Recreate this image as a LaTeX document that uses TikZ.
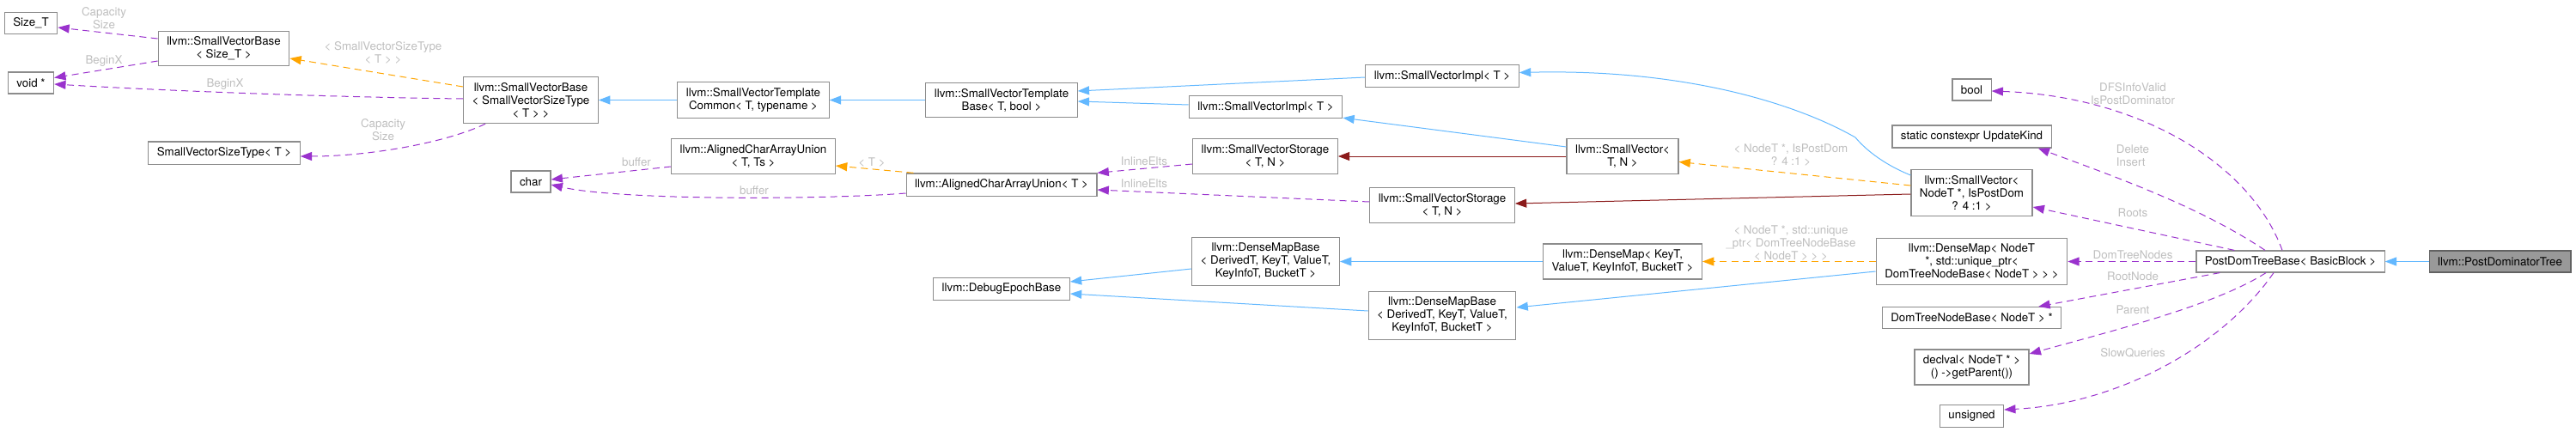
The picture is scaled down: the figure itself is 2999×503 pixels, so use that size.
\documentclass[tikz,border=0pt]{standalone}
\usepackage{fontspec}
\setmainfont{TeX Gyre Heros}
\usetikzlibrary{arrows.meta,calc}
\definecolor{keret}{HTML}{8C8C8C}
\definecolor{kekk}{HTML}{63B8FF}
\definecolor{lila}{HTML}{9A32CD}
\definecolor{narancs}{HTML}{FFA500}
\definecolor{bordo}{HTML}{8B1A1A}
\definecolor{halvany}{HTML}{BEBEBE}
\definecolor{szurke}{HTML}{999999}
\tikzset{
  osztaly/.style={draw=keret,line width=0.9pt,fill=white,align=center,inner xsep=7.5pt,
    inner ysep=5pt,minimum height=18.75pt,font=\fontsize{10}{11.25}\selectfont},
  kiemelt/.style={osztaly,fill=szurke,draw=keret!70!black},
  felirat/.style={text=halvany,align=center,inner sep=0pt,font=\fontsize{10}{11.25}\selectfont},
  nyil/.style={-{Triangle[length=10pt,width=7.5pt]},line width=0.75pt},
  orokles/.style={nyil,kekk},
  tagja/.style={nyil,lila,dash pattern=on 6pt off 4pt},
  sablon/.style={nyil,narancs,dash pattern=on 6pt off 4pt},
  tarol/.style={nyil,bordo},
}
\begin{document}
\begin{tikzpicture}[x=0.75pt,y=-0.75pt]
  \useasboundingbox (0,0) rectangle (2999,503);
  \node[osztaly] (sizeT) at (36,27) {Size\_T};
  \node[osztaly] (voidp) at (36,96.5) {void *};
  \node[osztaly] (svbS) at (260.5,56.5) {llvm::SmallVectorBase\\< Size\_T >};
  \node[osztaly] (svst) at (261,178) {SmallVectorSizeType< T >};
  \node[osztaly] (svbT) at (618,116.5) {llvm::SmallVectorBase\\< SmallVectorSizeType\\< T > >};
  \node[osztaly] (chr) at (618,211.5) {char};
  \node[osztaly] (svtc) at (877,116.5) {llvm::SmallVectorTemplate\\Common< T, typename >};
  \node[osztaly] (acauTs) at (877,182) {llvm::AlignedCharArrayUnion\\< T, Ts >};
  \node[osztaly] (svtb) at (1166,116.5) {llvm::SmallVectorTemplate\\Base< T, bool >};
  \node[osztaly] (acau) at (1166,215) {llvm::AlignedCharArrayUnion< T >};
  \node[osztaly] (debug) at (1166,336.5) {llvm::DebugEpochBase};
  \node[osztaly] (svimB) at (1473.5,124.5) {llvm::SmallVectorImpl< T >};
  \node[osztaly] (svsA) at (1473,182) {llvm::SmallVectorStorage\\< T, N >};
  \node[osztaly] (dmbA) at (1473.5,304.5) {llvm::DenseMapBase\\< DerivedT, KeyT, ValueT,\\KeyInfoT, BucketT >};
  \node[osztaly] (svimA) at (1679,88.5) {llvm::SmallVectorImpl< T >};
  \node[osztaly] (svsB) at (1679,239) {llvm::SmallVectorStorage\\< T, N >};
  \node[osztaly] (dmbB) at (1679,367.5) {llvm::DenseMapBase\\< DerivedT, KeyT, ValueT,\\KeyInfoT, BucketT >};
  \node[osztaly] (svTN) at (1889,182) {llvm::SmallVector<\\T, N >};
  \node[osztaly] (dmK) at (1889,304.5) {llvm::DenseMap< KeyT,\\ValueT, KeyInfoT, BucketT >};
  \node[osztaly] (bool) at (2295.5,104.5) {bool};
  \node[osztaly] (upd) at (2295.5,159) {static constexpr UpdateKind};
  \node[osztaly] (svN) at (2295.5,224.5) {llvm::SmallVector<\\NodeT *, IsPostDom\\? 4 :1 >};
  \node[osztaly] (dmN) at (2295.5,304.5) {llvm::DenseMap< NodeT\\*, std::unique\_ptr<\\DomTreeNodeBase< NodeT > > >};
  \node[osztaly] (dtnb) at (2295.5,370) {DomTreeNodeBase< NodeT > *};
  \node[osztaly] (decl) at (2295.5,427.5) {declval< NodeT * >\\() ->getParent())};
  \node[osztaly] (uns) at (2295.5,484.5) {unsigned};
  \node[osztaly] (pdtb) at (2666.5,304.5) {PostDomTreeBase< BasicBlock >};
  \node[kiemelt] (pdt) at (2910.5,304.5) {llvm::PostDominatorTree};
  % feliratok
  \node[felirat] (lCap1) at (121,21.5) {Capacity\\Size};
  \node[felirat] (lBeg1) at (121,71) {BeginX};
  \node[felirat] (lBeg2) at (262,98) {BeginX};
  \node[felirat] (lSvst) at (446,61) {< SmallVectorSizeType\\< T > >};
  \node[felirat] (lCap2) at (446,151) {Capacity\\Size};
  \node[felirat] (lBuf1) at (741,189) {buffer};
  \node[felirat] (lBuf2) at (878,222) {buffer};
  \node[felirat] (lT) at (1015,189) {< T >};
  \node[felirat] (lIn1) at (1332,188) {InlineElts};
  \node[felirat] (lIn2) at (1332,214) {InlineElts};
  \node[felirat] (lIsPD) at (2085,181) {< NodeT *, IsPostDom\\? 4 :1 >};
  \node[felirat] (lUniq) at (2085,283) {< NodeT *, std::unique\\\_ptr< DomTreeNodeBase\\< NodeT > > >};
  \node[felirat] (lDfs) at (2483,109) {DFSInfoValid\\IsPostDominator};
  \node[felirat,align=left] (lDel) at (2483,181) {Delete\\Insert};
  \node[felirat] (lRoots) at (2483,248) {Roots};
  \node[felirat] (lDtn) at (2483,297) {DomTreeNodes};
  \node[felirat] (lRn) at (2483,322) {RootNode};
  \node[felirat] (lPar) at (2483,361) {Parent};
  \node[felirat] (lSq) at (2483,411) {SlowQueries};
  % elek
  \draw[tagja] ($(svbS.west)+(0,-11.5)$) -- ($(sizeT.east)+(0,5)$);
  \draw[tagja] ($(svbS.west)+(0,14.5)$) -- ($(voidp.east)+(0,-6)$);
  \draw[tagja] ($(svbT.west)+(0,-1.5)$) .. controls (380,113) and (200,106) .. ($(voidp.east)+(0,1.5)$);
  \draw[sablon] ($(svbT.west)+(0,-15.5)$) -- ($(svbS.east)+(0,11.5)$);
  \draw[tagja] ($(svbT.south west)+(26,0)$) .. controls (520,166) and (430,182) .. ($(svst.east)+(0,4)$);
  \draw[orokles] (svtc) -- (svbT);
  \draw[orokles] (svtb) -- (svtc);
  \draw[orokles] ($(svimA.west)+(0,1.5)$) -- ($(svtb.east)+(0,-10.5)$);
  \draw[orokles] ($(svimB.west)+(0,-2.5)$) -- ($(svtb.east)+(0,1.5)$);
  \draw[orokles] ($(svTN.west)+(0,-11)$) -- ($(svimB.south east)+(0,-1)$);
  \draw[tarol] (svTN) -- (svsA);
  \draw[tagja] ($(svsA.west)+(0,9)$) -- (acau.north east);
  \draw[tagja] ($(svsB.west)+(0,-4)$) -- ($(acau.east)+(0,6)$);
  \draw[sablon] ($(acau.north west)+(9,0)$) -- ($(acauTs.east)+(0,11)$);
  \draw[tagja] ($(acauTs.west)+(0,12)$) -- ($(chr.east)+(0,-2.5)$);
  \draw[tagja] ($(acau.west)+(0,10)$) .. controls (950,233) and (720,233) .. ($(chr.east)+(0,3.5)$);
  \draw[orokles] ($(dmbA.west)+(0,8.5)$) -- ($(debug.east)+(0,-8.5)$);
  \draw[orokles] ($(dmbB.west)+(0,-5.5)$) -- ($(debug.east)+(0,5.5)$);
  \draw[orokles] (dmK) -- (dmbA);
  \draw[orokles] ($(dmN.west)+(0,11.5)$) -- ($(dmbB.east)+(0,-9.5)$);
  \draw[sablon] (dmN) -- (dmK);
  \draw[sablon] ($(svN.west)+(0,-8.5)$) -- ($(svTN.east)+(0,6.5)$);
  \draw[tarol] ($(svN.west)+(0,1.5)$) -- ($(svsB.east)+(0,-2)$);
  \draw[orokles] ($(svN.west)+(0,-20.5)$) .. controls (2190,190) and (2170,172) .. (2160,160)
    .. controls (2090,120) and (1960,80) .. ($(svimA.east)+(0,-4)$);
  \draw[tagja] ($(pdtb.north)+(-9.5,0)$) .. controls (2620,190) and (2490,112) .. ($(bool.east)+(0,1.5)$);
  \draw[tagja] ($(pdtb.north)+(-29.5,0)$) .. controls (2560,240) and (2460,205) .. ($(upd.south east)+(-16,0)$);
  \draw[tagja] ($(pdtb.north west)+(45,0)$) -- ($(svN.east)+(0,16.5)$);
  \draw[tagja] (pdtb) -- (dmN);
  \draw[tagja] ($(pdtb.south west)+(28,0)$) -- ($(dtnb.north east)+(-27,0)$);
  \draw[tagja] ($(pdtb.south)+(-28.5,0)$) .. controls (2580,355) and (2460,385) .. ($(decl.east)+(0,-15.5)$);
  \draw[tagja] ($(pdtb.south)+(-19.5,0)$) .. controls (2590,400) and (2470,470) .. ($(uns.east)+(0,-7.5)$);
  \draw[orokles] (pdt) -- (pdtb);
\end{tikzpicture}
\end{document}
